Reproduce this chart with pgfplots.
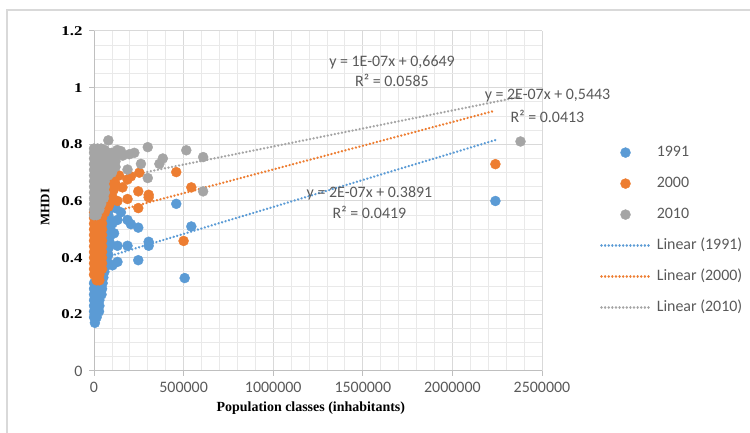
\documentclass[border=0pt]{standalone}
\usepackage{fontspec}
\setmainfont{Liberation Serif}
\newfontfamily\carlito{Carlito}
\newfontfamily\widebold[FakeStretch=1.25]{Liberation Serif}
\usepackage{pgfplots}
\pgfplotsset{compat=1.18}
\definecolor{c1991}{HTML}{5B9BD5}
\definecolor{c2000}{HTML}{ED7D31}
\definecolor{c2010}{HTML}{A5A5A5}
\definecolor{txtgray}{HTML}{595959}
\definecolor{gridmaj}{HTML}{D9D9D9}
\definecolor{gridmin}{HTML}{E9E9E9}
\definecolor{axgray}{HTML}{BFBFBF}
\begin{document}
\begin{tikzpicture}[x=1bp,y=1bp]
\path[use as bounding box] (0,0) rectangle (750,433);
\draw[gridmaj, line width=1.3bp] (7,0) -- (7,423) -- (750,423);
\begin{axis}[
  at={(94bp,62bp)}, anchor=south west,
  scale only axis, width=448bp, height=340bp,
  xmin=0, xmax=2500000, ymin=0, ymax=1.2,
  xtick={0,500000,1000000,1500000,2000000,2500000},
  xticklabels={0,500000,1000000,1500000,2000000,2500000},
  scaled x ticks=false,
  minor x tick num=4,
  ytick={0,0.2,0.4,0.6,0.8,1,1.2},
  yticklabels={{\carlito\mdseries\fontsize{16}{16}\selectfont\color{txtgray}0},0.2,0.4,0.6,0.8,1,1.2},
  minor y tick num=3,
  axis x line=bottom, axis y line=left,
  axis line style={draw=axgray, line width=1bp, -},
  grid=both,
  major grid style={draw=gridmaj, line width=1bp},
  minor grid style={draw=gridmin, line width=0.8bp},
  tick align=outside, major tick length=5bp, minor tick length=0bp,
  tick style={draw=axgray, line width=1bp},
  xticklabel style={font=\carlito\fontsize{16}{16}\selectfont, text=txtgray, yshift=-3bp},
  yticklabel style={font=\widebold\bfseries\fontsize{13.5}{13.5}\selectfont, text=black, anchor=east, xshift=-3bp},
  xlabel={Population classes (inhabitants)},
  xlabel style={font=\bfseries\fontsize{14}{14}\selectfont, at={(axis description cs:0.484,-0.11)}, anchor=center},
  ylabel={MHDI},
  ylabel style={font=\bfseries\fontsize{13}{13}\selectfont, at={(axis description cs:-0.109,0.482)}, anchor=center},
  clip=false,
  legend image code/.code={\draw[mark repeat=2,mark phase=2,#1] plot coordinates {(0bp,0bp) (24bp,0bp) (48bp,0bp)};},
  legend style={at={(axis description cs:1.1295,0.665)}, anchor=north west, draw=none, fill=none,
    inner sep=0pt, font=\carlito\fontsize{16}{16}\selectfont, text=txtgray,
    nodes={inner sep=0pt, text height=11bp, text depth=4bp},
    row sep=16bp, column sep=6bp},
  legend cell align=left,
  trend/.style={line width=2.6bp, dash pattern=on 0.01bp off 3.6bp, line cap=round},
]
% 1991
\addplot[only marks, mark=*, mark size=5bp, c1991, mark options={draw=c1991, fill=c1991}] coordinates {
(5000,0.17) (0,0.19) (15000,0.19) (0,0.21) (15000,0.21) (28000,0.21)
(0,0.23) (15000,0.23) (30000,0.23) (0,0.25) (15000,0.25) (30000,0.25)
(0,0.27) (15000,0.27) (30000,0.27) (42000,0.27) (0,0.29) (15000,0.29) (30000,0.29) (45000,0.29)
(0,0.31) (15000,0.31) (30000,0.31) (48000,0.31) (15000,0.33) (35000,0.33) (52000,0.33)
(40000,0.35) (58000,0.35) (45000,0.37) (65000,0.37) (50000,0.39) (72000,0.39)
(52000,0.41) (80000,0.41) (55000,0.43) (75000,0.43) (58000,0.45) (90000,0.45)
(60000,0.47) (85000,0.47) (62000,0.49) (95000,0.49) (65000,0.51) (90000,0.51)
(70000,0.53) (100000,0.53) (80000,0.55) (90000,0.575) (70000,0.585)
(103000,0.373) (131000,0.385) (66000,0.407) (131000,0.442) (187000,0.442) (84000,0.438) (247000,0.391)
(305000,0.442) (305000,0.456) (112000,0.486) (103000,0.521) (131000,0.533) (187000,0.533) (206000,0.518)
(247000,0.506) (150000,0.56) (120000,0.575) (459000,0.590) (543000,0.510) (506000,0.328) (2240000,0.60)
};
\addlegendentry{1991}
% 2000
\addplot[only marks, mark=*, mark size=5bp, c2000, mark options={draw=c2000, fill=c2000}] coordinates {
(15000,0.32) (30000,0.32) (0,0.34) (15000,0.34) (30000,0.34)
(0,0.36) (15000,0.36) (30000,0.36) (45000,0.36) (0,0.38) (15000,0.38) (30000,0.38) (45000,0.38)
(0,0.40) (15000,0.40) (30000,0.40) (45000,0.40) (0,0.42) (15000,0.42) (30000,0.42) (45000,0.42)
(0,0.44) (15000,0.44) (30000,0.44) (45000,0.44) (0,0.46) (15000,0.46) (30000,0.46) (45000,0.46)
(0,0.48) (15000,0.48) (30000,0.48) (45000,0.48) (0,0.50) (15000,0.50) (30000,0.50) (45000,0.50)
(0,0.52) (15000,0.52) (30000,0.52) (45000,0.52) (0,0.54) (15000,0.54) (30000,0.54) (45000,0.54)
(0,0.56) (20000,0.56) (40000,0.56) (60000,0.56) (50000,0.58) (65000,0.58) (80000,0.58)
(55000,0.60) (75000,0.60) (95000,0.60) (60000,0.62) (80000,0.62) (100000,0.62)
(65000,0.64) (85000,0.64) (110000,0.64) (70000,0.66) (95000,0.66) (120000,0.66) (80000,0.68) (110000,0.68)
(84000,0.587) (131000,0.60) (159000,0.648) (187000,0.607) (187000,0.676) (206000,0.687)
(253000,0.70) (247000,0.634) (247000,0.575) (305000,0.613) (305000,0.622) (140000,0.69)
(459000,0.702) (543000,0.648) (500000,0.459) (2240000,0.73)
};
\addlegendentry{2000}
% 2010
\addplot[only marks, mark=*, mark size=5bp, c2010, mark options={draw=c2010, fill=c2010}] coordinates {
(0,0.55) (15000,0.55) (0,0.57) (15000,0.57) (30000,0.57) (0,0.59) (20000,0.59) (40000,0.59)
(0,0.61) (20000,0.61) (40000,0.61) (55000,0.61)
(0,0.63) (20000,0.63) (40000,0.63) (60000,0.63) (0,0.65) (20000,0.65) (40000,0.65) (60000,0.65)
(0,0.67) (20000,0.67) (40000,0.67) (60000,0.67)
(0,0.69) (20000,0.69) (40000,0.69) (60000,0.69) (80000,0.69) (100000,0.70)
(0,0.71) (20000,0.71) (40000,0.71) (60000,0.71) (80000,0.71) (100000,0.71) (120000,0.72)
(0,0.73) (20000,0.73) (40000,0.73) (60000,0.73) (80000,0.73) (100000,0.73) (120000,0.74)
(0,0.75) (20000,0.75) (40000,0.75) (60000,0.75) (80000,0.75) (100000,0.75) (120000,0.76)
(0,0.77) (20000,0.77) (40000,0.77) (60000,0.77) (80000,0.77) (100000,0.77) (130000,0.78)
(0,0.785) (20000,0.785) (40000,0.785) (60000,0.78)
(160000,0.76) (80000,0.814) (150000,0.776) (187000,0.711) (197000,0.765)
(225000,0.770) (262000,0.731) (300000,0.79) (300000,0.681) (365000,0.731) (384000,0.750) (515000,0.779)
(609000,0.755) (609000,0.634) (2380000,0.81)
};
\addlegendentry{2010}
% trend lines
\addplot[c1991, trend] coordinates {(1000,0.389) (2240000,0.815)};
\addlegendentry{Linear (1991)}
\addplot[c2000, trend] coordinates {(1000,0.544) (2240000,0.919)};
\addlegendentry{Linear (2000)}
\addplot[c2010, trend] coordinates {(1000,0.665) (2380000,0.968)};
\addlegendentry{Linear (2010)}
\end{axis}
\begin{scope}[every node/.style={font=\carlito\fontsize{16}{16}\selectfont, text=txtgray, inner sep=0pt}]
\node at (392,370.3) {y = 1E-07x + 0,6649};
\node at (392,352.3) {R² = 0.0585};
\node at (547.5,337) {y = 2E-07x + 0,5443};
\node at (547.5,317) {R² = 0.0413};
\node at (369.5,239.7) {y = 2E-07x + 0.3891};
\node at (369.5,220.3) {R² = 0.0419};
\end{scope}
\end{tikzpicture}
\end{document}
